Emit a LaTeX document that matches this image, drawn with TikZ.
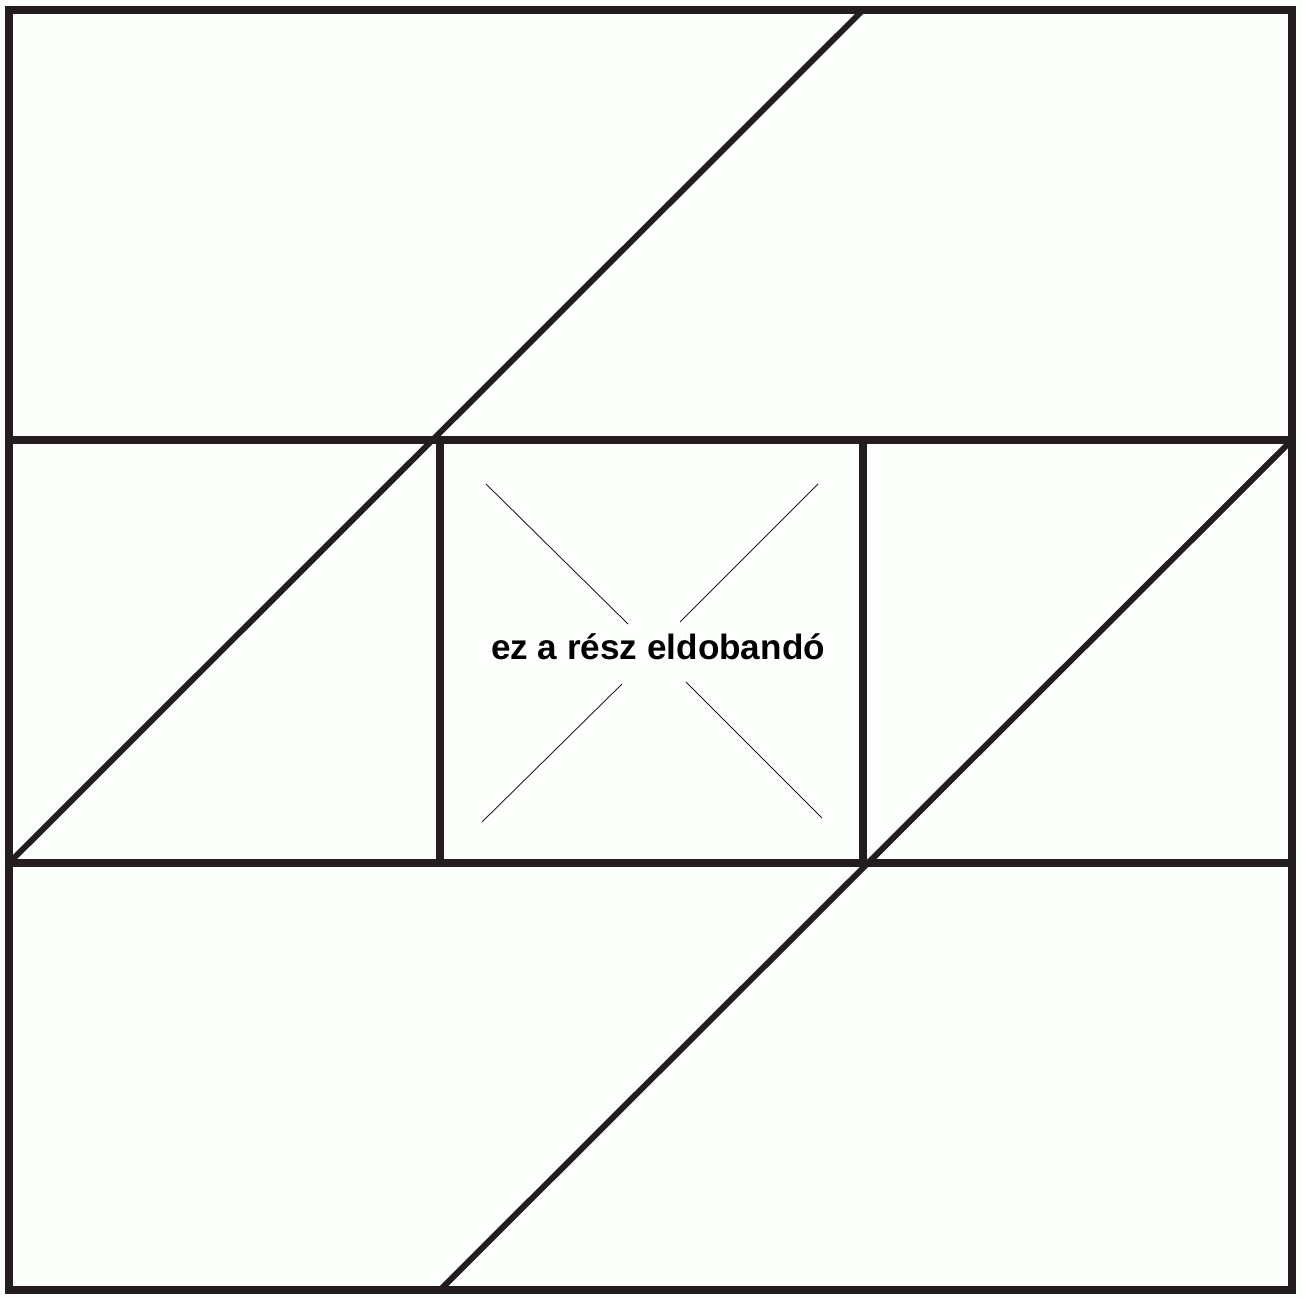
\documentclass[tikz,border=0pt]{standalone}
\usepackage{fontspec}
\setmainfont{Liberation Sans}
\usetikzlibrary{positioning}
\definecolor{frameink}{RGB}{35,28,32}
\definecolor{paper}{RGB}{253,255,253}

\begin{document}
\begin{tikzpicture}[x=0.02cm, y=-0.02cm, font=\bfseries\fontsize{20}{24}\selectfont,
		frameline/.style={line width=4.6pt, draw=frameink},
		slantline/.style={line width=3.4pt, draw=frameink},
		crossline/.style={line width=0.5pt, draw=frameink}]
				\fill[paper] (0,0) rectangle (1302,1297);
				\useasboundingbox (0,0) rectangle (1302,1297);
				
				% outer frame and the middle strip
				\coordinate (tl) at (9,10);
				\coordinate (br) at (1292,1290);
				\coordinate (ml) at (9,440);
				\coordinate (mr) at (1292,440);
				\coordinate (nl) at (9,863);
				\coordinate (nr) at (1292,863);
				\coordinate (ca) at (440,440);
				\coordinate (cb) at (863,440);
				\coordinate (cc) at (440,863);
				\coordinate (cd) at (863,863);
				
				\draw[frameline] (tl) rectangle (br);
				\draw[frameline] (ml) -- (mr);
				\draw[frameline] (nl) -- (nr);
				\draw[frameline] (ca) -- (cc);
				\draw[frameline] (cb) -- (cd);
				
				% slanted cuts
				\coordinate (ta) at (863,10);
				\coordinate (bb) at (440,1290);
				\draw[slantline] (ta) -- (nl);
				\draw[slantline] (mr) -- (bb);
				
				% the middle square
				\node (label) at (658,647) {ez a rész eldobandó};
				\draw[crossline] (486,484) -- (628,624);
				\draw[crossline] (818,484) -- (680,622);
				\draw[crossline] (482,822) -- (622,684);
				\draw[crossline] (822,818) -- (686,682);
			\end{tikzpicture}
\end{document}
